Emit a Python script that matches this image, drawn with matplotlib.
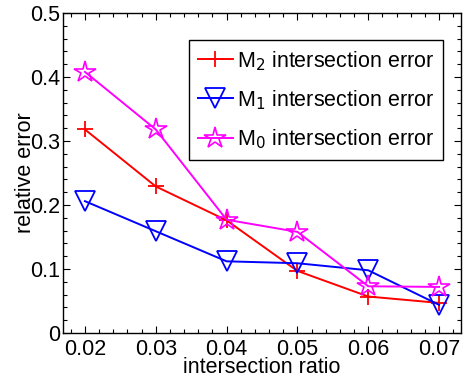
import matplotlib
matplotlib.use("Agg")
import matplotlib.pyplot as plt
from matplotlib.ticker import MultipleLocator

plt.rcParams['font.family'] = ['Liberation Sans', 'DejaVu Sans']

ratio = [0.02, 0.03, 0.04, 0.05, 0.06, 0.07]
m2_err = [0.318, 0.229, 0.176, 0.097, 0.057, 0.047]
m1_err = [0.206, 0.159, 0.112, 0.109, 0.098, 0.044]
m0_err = [0.408, 0.318, 0.177, 0.158, 0.073, 0.072]

fig = plt.figure(figsize=(4.65, 3.82), dpi=100)
ax = fig.add_axes([63/465, 1 - 333/382, 398/465, 320/382])

lw = 1.4
ax.plot(ratio, m2_err, color='red', marker='+', markersize=12, markeredgewidth=1.3,
        linewidth=lw, label=r'M$_2$ intersection error')
ax.plot(ratio, m1_err, color='blue', marker='v', markersize=14, markeredgewidth=1.3,
        markerfacecolor='none', linewidth=lw, label=r'M$_1$ intersection error')
ax.plot(ratio, m0_err, color='magenta', marker='*', markersize=16, markeredgewidth=1.2,
        markerfacecolor='none', linewidth=lw, label=r'M$_0$ intersection error')

ax.set_xlim(0.0169, 0.0731)
ax.set_ylim(0, 0.5)
ax.xaxis.set_major_locator(MultipleLocator(0.01))
ax.xaxis.set_minor_locator(MultipleLocator(0.002))
ax.yaxis.set_major_locator(MultipleLocator(0.1))
ax.yaxis.set_minor_locator(MultipleLocator(0.02))
ax.set_xticks(ratio)
ax.set_xticklabels(['0.02', '0.03', '0.04', '0.05', '0.06', '0.07'])
ax.set_yticks([0, 0.1, 0.2, 0.3, 0.4, 0.5])
ax.set_yticklabels(['0', '0.1', '0.2', '0.3', '0.4', '0.5'])

ax.tick_params(which='both', direction='in', top=True, right=True, width=0.8)
ax.tick_params(which='major', length=5, labelsize=15.5)
ax.tick_params(which='minor', length=3)
ax.tick_params(axis='y', pad=2)
ax.tick_params(axis='x', pad=4)
for s in ax.spines.values():
    s.set_linewidth(1.0)

ax.set_xlabel('intersection ratio', fontsize=15.5)
ax.set_ylabel('relative error', fontsize=15.5)
ax.xaxis.set_label_coords(0.5, -0.074)
ax.yaxis.set_label_coords(-0.068, 0.5)

leg = ax.legend(loc='upper left', bbox_to_anchor=(0.317, 0.0, 0.638, 0.916),
                mode='expand', fontsize=15.5,
                frameon=True, fancybox=False, framealpha=1, edgecolor='black',
                handlelength=1.6, handletextpad=0.2, borderpad=0.42,
                labelspacing=0.72, borderaxespad=0)
leg.get_frame().set_linewidth(1.0)

fig.savefig('out.png', dpi=100)
